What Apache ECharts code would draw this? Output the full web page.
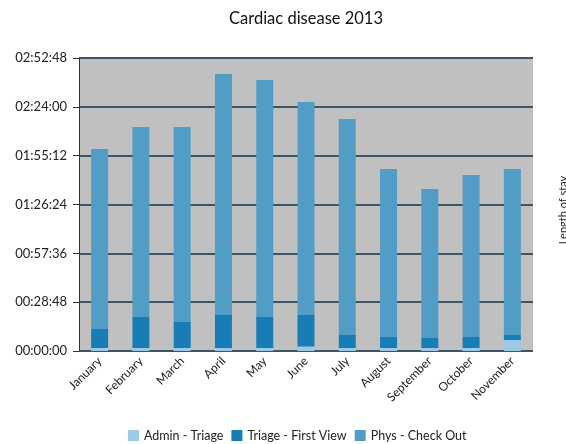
<!DOCTYPE html>
<html>
<head>
<meta charset="utf-8">
<script src="https://cdn.jsdelivr.net/npm/echarts@6/dist/echarts.min.js"></script>
<style>
  html, body { margin: 0; padding: 0; background: #fff; }
  #myChart { width: 566px; height: 444px; }
</style>
</head>
<body>
<div id="myChart"></div>
<script>
// durations in seconds
var months = ['January', 'February', 'March', 'April', 'May', 'June', 'July', 'August', 'September', 'October', 'November'];
var adminTriage = [106, 106, 106, 106, 106, 159, 106, 106, 106, 106, 389];
var triageFirstView = [672, 1097, 920, 1168, 1097, 1115, 460, 389, 354, 389, 177];
var physCheckOut = [6369, 6723, 6900, 8528, 8386, 7537, 7643, 5945, 5273, 5733, 5874];

function pad(n) { return (n < 10 ? '0' : '') + n; }
function hms(v) {
    var h = Math.floor(v / 3600), m = Math.floor((v % 3600) / 60), s = Math.round(v % 60);
    return pad(h) + ':' + pad(m) + ':' + pad(s);
}

var myChart = echarts.init(document.getElementById('myChart'));
var font = 'Lato';
var option = {
    textStyle: { fontFamily: font },
    title: {
        text: 'Cardiac disease 2013',
        left: 301,
        textAlign: 'center',
        top: 5,
        textStyle: { fontFamily: font, fontSize: 16.5, fontWeight: 'normal', color: '#111' }
    },
    legend: {
        top: 424,
        left: 123,
        icon: 'rect',
        itemWidth: 11,
        itemHeight: 11,
        itemGap: 8,
        textStyle: { fontFamily: font, fontSize: 12.5, color: '#222' },
        data: ['Admin - Triage', 'Triage - First View', 'Phys - Check Out']
    },
    grid: { left: 79, right: 33, top: 58, bottom: 93, backgroundColor: '#c0c0c0', show: true, borderWidth: 0 },
    xAxis: {
        type: 'category',
        data: months,
        axisLine: { show: false },
        axisTick: { show: false },
        axisLabel: { interval: 0, rotate: 45, fontSize: 12, color: '#222', margin: 8 }
    },
    yAxis: {
        type: 'value',
        min: 0,
        max: 10368,
        interval: 1728,
        axisLine: { show: true, lineStyle: { color: '#1d3a4a', width: 1 } },
        axisTick: { show: true, length: 6, lineStyle: { color: '#1d3a4a' } },
        axisLabel: { formatter: hms, fontSize: 13, color: '#222', margin: 12 },
        splitLine: { lineStyle: { color: '#3d5666', width: 2 } }
    },
    graphic: [{
        type: 'text',
        x: 563,
        y: 210,
        rotation: Math.PI / 2,
        style: {
            text: 'Length of stay',
            fontFamily: font,
            fontSize: 11,
            fill: '#222',
            align: 'center',
            verticalAlign: 'middle'
        }
    }],
    series: [
        { name: 'Admin - Triage', type: 'bar', stack: 'total', barWidth: 17, data: adminTriage, itemStyle: { color: '#9bc9e6' } },
        { name: 'Triage - First View', type: 'bar', stack: 'total', data: triageFirstView, itemStyle: { color: '#187db4' } },
        { name: 'Phys - Check Out', type: 'bar', stack: 'total', data: physCheckOut, itemStyle: { color: '#529dc6' } }
    ]
};
myChart.setOption(option);
</script>
</body>
</html>
